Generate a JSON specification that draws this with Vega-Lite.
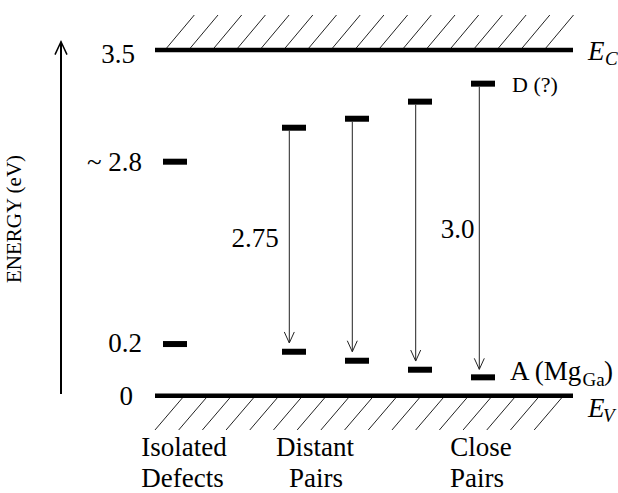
{
  "$schema": "https://vega.github.io/schema/vega-lite/v6.json",
  "width": 618,
  "height": 493,
  "autosize": "none",
  "padding": 0,
  "background": "white",
  "config": {"view": {"stroke": null}, "font": "Liberation Serif"},
  "datasets": {
    "bands": [
      {"x": 155, "x2": 573, "e": 3.5},
      {"x": 155, "x2": 573, "e": 0}
    ],
    "levels": [
      {"x": 163, "x2": 187, "e": 2.369}, {"x": 163, "x2": 187, "e": 0.523},
      {"x": 282, "x2": 306, "e": 2.713}, {"x": 282, "x2": 306, "e": 0.445},
      {"x": 345, "x2": 369, "e": 2.804}, {"x": 345, "x2": 369, "e": 0.354},
      {"x": 408, "x2": 432, "e": 2.977}, {"x": 408, "x2": 432, "e": 0.263},
      {"x": 471, "x2": 495, "e": 3.159}, {"x": 471, "x2": 495, "e": 0.186}
    ],
    "arrows": [
      {"x": 289.3, "e": 2.683, "e2": 0.534},
      {"x": 352.3, "e": 2.774, "e2": 0.445},
      {"x": 415.7, "e": 2.946, "e2": 0.351},
      {"x": 479.3, "e": 3.128, "e2": 0.267}
    ],
    "axisArrow": [{"x": 61, "e": 0.017, "e2": 3.584}],
    "hatch": [
      {"x": 165.0, "e": 3.5, "x2": 194.3, "e2": 3.854},
      {"x": 188.7, "e": 3.5, "x2": 218.0, "e2": 3.854},
      {"x": 212.4, "e": 3.5, "x2": 241.7, "e2": 3.854},
      {"x": 236.1, "e": 3.5, "x2": 265.4, "e2": 3.854},
      {"x": 259.8, "e": 3.5, "x2": 289.1, "e2": 3.854},
      {"x": 283.5, "e": 3.5, "x2": 312.8, "e2": 3.854},
      {"x": 307.2, "e": 3.5, "x2": 336.5, "e2": 3.854},
      {"x": 330.9, "e": 3.5, "x2": 360.2, "e2": 3.854},
      {"x": 354.6, "e": 3.5, "x2": 383.9, "e2": 3.854},
      {"x": 378.3, "e": 3.5, "x2": 407.6, "e2": 3.854},
      {"x": 402.0, "e": 3.5, "x2": 431.3, "e2": 3.854},
      {"x": 425.7, "e": 3.5, "x2": 455.0, "e2": 3.854},
      {"x": 449.4, "e": 3.5, "x2": 478.7, "e2": 3.854},
      {"x": 473.1, "e": 3.5, "x2": 502.4, "e2": 3.854},
      {"x": 496.8, "e": 3.5, "x2": 526.1, "e2": 3.854},
      {"x": 520.5, "e": 3.5, "x2": 549.8, "e2": 3.854},
      {"x": 544.2, "e": 3.5, "x2": 573.5, "e2": 3.854},
      {"x": 184.3, "e": 0, "x2": 155.0, "e2": -0.347},
      {"x": 208.0, "e": 0, "x2": 178.7, "e2": -0.347},
      {"x": 231.7, "e": 0, "x2": 202.4, "e2": -0.347},
      {"x": 255.4, "e": 0, "x2": 226.1, "e2": -0.347},
      {"x": 279.1, "e": 0, "x2": 249.8, "e2": -0.347},
      {"x": 302.8, "e": 0, "x2": 273.5, "e2": -0.347},
      {"x": 326.5, "e": 0, "x2": 297.2, "e2": -0.347},
      {"x": 350.2, "e": 0, "x2": 320.9, "e2": -0.347},
      {"x": 373.9, "e": 0, "x2": 344.6, "e2": -0.347},
      {"x": 397.6, "e": 0, "x2": 368.3, "e2": -0.347},
      {"x": 421.3, "e": 0, "x2": 392.0, "e2": -0.347},
      {"x": 445.0, "e": 0, "x2": 415.7, "e2": -0.347},
      {"x": 468.7, "e": 0, "x2": 439.4, "e2": -0.347},
      {"x": 492.4, "e": 0, "x2": 463.1, "e2": -0.347},
      {"x": 516.1, "e": 0, "x2": 486.8, "e2": -0.347},
      {"x": 539.8, "e": 0, "x2": 510.5, "e2": -0.347},
      {"x": 563.5, "e": 0, "x2": 534.2, "e2": -0.347}
    ],
    "ticks": [
      {"x": 135, "e": 3.368, "t": "3.5"},
      {"x": 142, "e": 2.275, "t": "~ 2.8"},
      {"x": 142, "e": 0.442, "t": "0.2"},
      {"x": 133, "e": -0.094, "t": "0"}
    ],
    "centerLabels": [
      {"x": 255, "e": 1.506, "t": "2.75"},
      {"x": 457.5, "e": 1.597, "t": "3.0"},
      {"x": 184, "e": -0.611, "t": "Isolated"},
      {"x": 182.5, "e": -0.924, "t": "Defects"},
      {"x": 315, "e": -0.611, "t": "Distant"},
      {"x": 316, "e": -0.924, "t": "Pairs"},
      {"x": 481, "e": -0.611, "t": "Close"},
      {"x": 477, "e": -0.924, "t": "Pairs"}
    ],
    "leftLabels": [
      {"x": 510, "e": 0.16, "t": "A (Mg"},
      {"x": 604, "e": 0.16, "t": ")"}
    ],
    "smallLabels": [
      {"x": 512, "e": 3.07, "t": "D (?)"}
    ],
    "subLabels": [
      {"x": 582.5, "e": 0.098, "t": "Ga"}
    ],
    "bandNames": [
      {"x": 588, "e": 3.399, "t": "E"},
      {"x": 588, "e": -0.216, "t": "E"}
    ],
    "bandSubs": [
      {"x": 605, "e": 3.348, "t": "C"},
      {"x": 603, "e": -0.266, "t": "V"}
    ],
    "axisTitle": [{"x": 15, "e": 1.789, "t": "ENERGY (eV)"}]
  },
  "layer": [
    {
      "data": {"name": "hatch"},
      "mark": {"type": "rule", "stroke": "#222", "strokeWidth": 1},
      "encoding": {
        "x": {"field": "x", "type": "quantitative", "scale": {"domain": [0, 618], "nice": false, "zero": false}, "axis": null},
        "y": {"field": "e", "type": "quantitative", "scale": {"domain": [-0.985, 4.006], "nice": false, "zero": false}, "axis": null},
        "x2": {"field": "x2"},
        "y2": {"field": "e2"}
      }
    },
    {
      "data": {"name": "bands"},
      "mark": {"type": "rule", "stroke": "black", "strokeWidth": 4.5, "strokeCap": "butt"},
      "encoding": {
        "x": {"field": "x", "type": "quantitative"},
        "x2": {"field": "x2"},
        "y": {"field": "e", "type": "quantitative"}
      }
    },
    {
      "data": {"name": "levels"},
      "mark": {"type": "rule", "stroke": "black", "strokeWidth": 6, "strokeCap": "butt"},
      "encoding": {
        "x": {"field": "x", "type": "quantitative"},
        "x2": {"field": "x2"},
        "y": {"field": "e", "type": "quantitative"}
      }
    },
    {
      "data": {"name": "arrows"},
      "mark": {"type": "rule", "stroke": "#222", "strokeWidth": 1},
      "encoding": {
        "x": {"field": "x", "type": "quantitative"},
        "y": {"field": "e", "type": "quantitative"},
        "y2": {"field": "e2"}
      }
    },
    {
      "data": {"name": "arrows"},
      "mark": {"type": "point", "shape": "M-0.5,-1.1L0,0L0.5,-1.1", "size": 400, "filled": false, "stroke": "#222", "strokeWidth": 1, "opacity": 1},
      "encoding": {
        "x": {"field": "x", "type": "quantitative"},
        "y": {"field": "e2", "type": "quantitative"}
      }
    },
    {
      "data": {"name": "axisArrow"},
      "mark": {"type": "rule", "stroke": "black", "strokeWidth": 2},
      "encoding": {
        "x": {"field": "x", "type": "quantitative"},
        "y": {"field": "e", "type": "quantitative"},
        "y2": {"field": "e2"}
      }
    },
    {
      "data": {"name": "axisArrow"},
      "mark": {"type": "point", "shape": "M-0.6,1.3L0,0L0.6,1.3", "size": 400, "filled": false, "stroke": "black", "strokeWidth": 1.5, "opacity": 1},
      "encoding": {
        "x": {"field": "x", "type": "quantitative"},
        "y": {"field": "e2", "type": "quantitative"}
      }
    },
    {
      "data": {"name": "ticks"},
      "mark": {"type": "text", "align": "right", "baseline": "alphabetic", "fontSize": 27, "font": "Liberation Serif", "color": "black"},
      "encoding": {
        "x": {"field": "x", "type": "quantitative"},
        "y": {"field": "e", "type": "quantitative"},
        "text": {"field": "t"}
      }
    },
    {
      "data": {"name": "centerLabels"},
      "mark": {"type": "text", "align": "center", "baseline": "alphabetic", "fontSize": 27, "font": "Liberation Serif", "color": "black"},
      "encoding": {
        "x": {"field": "x", "type": "quantitative"},
        "y": {"field": "e", "type": "quantitative"},
        "text": {"field": "t"}
      }
    },
    {
      "data": {"name": "leftLabels"},
      "mark": {"type": "text", "align": "left", "baseline": "alphabetic", "fontSize": 27, "font": "Liberation Serif", "color": "black"},
      "encoding": {
        "x": {"field": "x", "type": "quantitative"},
        "y": {"field": "e", "type": "quantitative"},
        "text": {"field": "t"}
      }
    },
    {
      "data": {"name": "smallLabels"},
      "mark": {"type": "text", "align": "left", "baseline": "alphabetic", "fontSize": 22, "font": "Liberation Serif", "color": "black"},
      "encoding": {
        "x": {"field": "x", "type": "quantitative"},
        "y": {"field": "e", "type": "quantitative"},
        "text": {"field": "t"}
      }
    },
    {
      "data": {"name": "subLabels"},
      "mark": {"type": "text", "align": "left", "baseline": "alphabetic", "fontSize": 19, "font": "Liberation Serif", "color": "black"},
      "encoding": {
        "x": {"field": "x", "type": "quantitative"},
        "y": {"field": "e", "type": "quantitative"},
        "text": {"field": "t"}
      }
    },
    {
      "data": {"name": "bandNames"},
      "mark": {"type": "text", "align": "left", "baseline": "alphabetic", "fontSize": 27, "fontStyle": "italic", "font": "Liberation Serif", "color": "black"},
      "encoding": {
        "x": {"field": "x", "type": "quantitative"},
        "y": {"field": "e", "type": "quantitative"},
        "text": {"field": "t"}
      }
    },
    {
      "data": {"name": "bandSubs"},
      "mark": {"type": "text", "align": "left", "baseline": "alphabetic", "fontSize": 19, "fontStyle": "italic", "font": "Liberation Serif", "color": "black"},
      "encoding": {
        "x": {"field": "x", "type": "quantitative"},
        "y": {"field": "e", "type": "quantitative"},
        "text": {"field": "t"}
      }
    },
    {
      "data": {"name": "axisTitle"},
      "mark": {"type": "text", "align": "center", "baseline": "middle", "angle": 270, "fontSize": 21, "font": "Liberation Serif", "color": "black"},
      "encoding": {
        "x": {"field": "x", "type": "quantitative"},
        "y": {"field": "e", "type": "quantitative"},
        "text": {"field": "t"}
      }
    }
  ]
}
